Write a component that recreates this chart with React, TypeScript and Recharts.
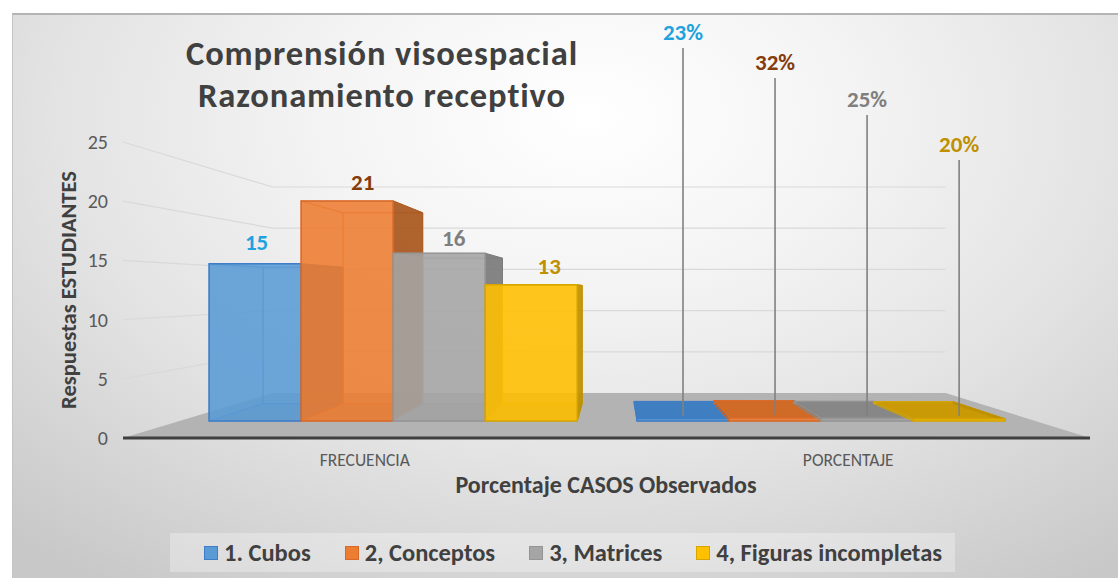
import React from "react";
import { BarChart, Bar, XAxis, YAxis, CartesianGrid, LabelList } from "recharts";

// ---------- DATA ----------
const categories = ["FRECUENCIA", "PORCENTAJE"];
const seriesNames = ["1. Cubos", "2, Conceptos", "3, Matrices", "4, Figuras incompletas"];
const frecuencia = [15, 21, 16, 13];
const porcentaje = [0.23, 0.32, 0.25, 0.2];
const yTicks = [0, 5, 10, 15, 20, 25];
const titleLines = ["Comprensión visoespacial", "Razonamiento receptivo"];
const yTitle = "Respuestas ESTUDIANTES";
const xTitle = "Porcentaje CASOS Observados";

const seriesKeys = seriesNames.map((_, i) => `s${i}`);
const data = categories.map((cat, ci) => {
  const row: Record<string, string | number> = { cat };
  seriesKeys.forEach((k, si) => {
    row[k] = ci === 0 ? frecuencia[si] : porcentaje[si];
  });
  return row;
});

// ---------- STYLE ----------
const FONT = "Carlito, Calibri, 'Liberation Sans Narrow', 'Open Sans', sans-serif";
const W = 1101;
const H = 565;
const M = { top: 129, right: 23, bottom: 100, left: 51 };
const Y_AXIS_W = 60;
const X_AXIS_H = 40;
const PLOT_LEFT = M.left + Y_AXIS_W;
const PLOT_RIGHT = W - M.right;
const PLOT_BOTTOM = H - M.bottom - X_AXIS_H;
// perspective projection (vanishing point + depth factors)
const VX = 602.8;
const VY = 277;
const T_FRONT = 0.885;
const T_BACK = 0.767;
const T_WALL = 0.696;

const FRONT = ["#5B9BD5", "#ED7D31", "#A5A5A5", "#FFC000"];
const EDGE = ["#3F7EC6", "#D8692A", "#959595", "#D6A500"];
const SIDE = ["#41719C", "#A9581F", "#7C7C7C", "#BF9000"];
const TOPC = ["#3F7FC1", "#CF6A27", "#878787", "#C99A06"];
const LABEL = ["#1FA3DF", "#843C0C", "#7F7F7F", "#BF9000"];
const FREQ_DX = [1.5, 15.5, 14.5, 18];
const FREQ_DY = [-22, -19, -15, -19];
const PCT_LABEL_Y = [19, 49, 86, 131];

const proj = (X: number, Y: number, t: number): [number, number] => [
  VX + (X - VX) * t,
  VY + (Y - VY) * t,
];
const pts = (arr: [number, number][]) => arr.map((p) => `${p[0].toFixed(2)},${p[1].toFixed(2)}`).join(" ");

function Box3D(props: any) {
  const { x, y, width, height, si } = props;
  if (x == null || y == null) return null;
  const X1 = x;
  const X2 = x + width;
  const Y1 = y;
  const Y2 = y + height;
  const f = (X: number, Y: number) => proj(X, Y, T_FRONT);
  const b = (X: number, Y: number) => proj(X, Y, T_BACK);
  const topVisible = Y1 > VY;
  return (
    <g>
      <polygon points={pts([b(X1, Y1), b(X2, Y1), b(X2, Y2), b(X1, Y2)])} fill={FRONT[si]} fillOpacity={0.2} stroke={EDGE[si]} strokeOpacity={0.6} strokeWidth={1} />
      <polygon points={pts([f(X1, Y2), f(X2, Y2), b(X2, Y2), b(X1, Y2)])} fill={SIDE[si]} fillOpacity={0.35} stroke={EDGE[si]} strokeOpacity={0.6} strokeWidth={1} />
      <polygon points={pts([f(X1, Y1), f(X1, Y2), b(X1, Y2), b(X1, Y1)])} fill={FRONT[si]} fillOpacity={0.25} stroke={EDGE[si]} strokeOpacity={0.6} strokeWidth={1} />
      <polygon points={pts([f(X1, Y1), f(X2, Y1), b(X2, Y1), b(X1, Y1)])} fill={TOPC[si]} fillOpacity={topVisible ? 1 : 0.15} stroke={EDGE[si]} strokeOpacity={topVisible ? 1 : 0.6} strokeWidth={1} />
      <polygon points={pts([f(X2, Y1), f(X2, Y2), b(X2, Y2), b(X2, Y1)])} fill={SIDE[si]} fillOpacity={0.92} stroke={SIDE[si]} strokeWidth={1} />
      <polygon points={pts([f(X1, Y1), f(X2, Y1), f(X2, Y2), f(X1, Y2)])} fill={FRONT[si]} fillOpacity={0.85} stroke={EDGE[si]} strokeWidth={1.5} />
    </g>
  );
}

const makeLabel = (si: number) => (p: any) => {
  const vb = p.viewBox && p.viewBox.width != null ? p.viewBox : p;
  const { x, y, width } = vb;
  const value = Number(p.value);
  const isPct = p.index != null ? p.index === 1 : value < 1;
  const cx = x + width / 2;
  const [fx, fy] = proj(cx, y, T_FRONT);
  if (!isPct) {
    return (
      <text x={fx + FREQ_DX[si]} y={fy + FREQ_DY[si]} textAnchor="middle" dominantBaseline="central" fill={LABEL[si]} fontSize={23} fontWeight={700} fontFamily={FONT}>
        {value}
      </text>
    );
  }
  const ly = PCT_LABEL_Y[si];
  return (
    <g>
      <line x1={fx} y1={fy - 3} x2={fx} y2={ly + 16} stroke="#808080" strokeWidth={1.6} />
      <text x={fx} y={ly} textAnchor="middle" dominantBaseline="central" fill={LABEL[si]} fontSize={23} fontWeight={700} fontFamily={FONT}>
        {`${Math.round(value * 100)}%`}
      </text>
    </g>
  );
};

const gridLine = (p: any) => {
  const y1 = p.y1;
  const [bxL, by] = proj(PLOT_LEFT, y1, T_WALL);
  const [bxR] = proj(PLOT_RIGHT, y1, T_WALL);
  if (Math.abs(y1 - PLOT_BOTTOM) < 1) {
    return (
      <polygon key={p.key} points={pts([[PLOT_LEFT, y1], [PLOT_RIGHT, y1], [bxR, by], [bxL, by]])} fill="#b3b3b3" stroke="none" />
    );
  }
  return (
    <polyline key={p.key} points={pts([[PLOT_LEFT, y1], [bxL, by], [bxR, by]])} fill="none" stroke="#d9d9d9" strokeWidth={1.2} />
  );
};

const YTick = (p: any) => (
  <text x={PLOT_LEFT - 15} y={p.y} textAnchor="end" dominantBaseline="central" fill="#595959" fontSize={20} fontFamily={FONT}>
    {p.payload.value}
  </text>
);

const XTick = (p: any) => (
  <text x={p.x} y={PLOT_BOTTOM + 22} textAnchor="middle" dominantBaseline="central" fill="#595959" fontSize={17.5} fontFamily={FONT}>
    {p.payload.value}
  </text>
);

export default function App() {
  return (
    <div style={{ position: "absolute", left: 0, top: 0, width: 1118, height: 578, background: "#fff", overflow: "hidden" }}>
      <div
        style={{
          position: "absolute",
          left: 12,
          top: 13,
          width: 1106,
          height: 565,
          borderTop: "2px solid #b4b4b4",
          borderLeft: "1px solid #c4c4c4",
          boxSizing: "border-box",
          background:
            "radial-gradient(ellipse 78% 100% at 52% 18%, #ffffff 0%, #f4f4f4 30%, #e3e3e3 62%, #c8c8c8 100%)",
        }}
      />
      <div style={{ position: "absolute", left: 12, top: 13, width: W, height: H }}>
        <BarChart width={W} height={H} data={data} margin={M} barCategoryGap="6.9%" barGap={0}>
          <CartesianGrid vertical={false} horizontal={gridLine} />
          <XAxis dataKey="cat" height={X_AXIS_H} axisLine={{ stroke: "#3f3f3f", strokeWidth: 3 }} tickLine={false} tick={XTick} interval={0} />
          <YAxis width={Y_AXIS_W} domain={[0, 25]} ticks={yTicks} axisLine={false} tickLine={false} tick={YTick} interval={0} />
          {seriesKeys.map((k, si) => (
            <Bar key={k} dataKey={k} name={seriesNames[si]} fill={FRONT[si]} isAnimationActive={false} shape={(p: any) => <Box3D {...p} si={si} />}>
              <LabelList dataKey={k} content={makeLabel(si)} />
            </Bar>
          ))}
        </BarChart>
        <svg width={W} height={H} style={{ position: "absolute", left: 0, top: 0, pointerEvents: "none" }}>
          {titleLines.map((t, i) => (
            <text key={t} x={370} y={52 + i * 42} textAnchor="middle" fill="#404040" fontSize={34.5} fontWeight={700} letterSpacing={0.9} fontFamily={FONT}>
              {t}
            </text>
          ))}
          <text x={56} y={277} transform="rotate(-90 56 277)" textAnchor="middle" dominantBaseline="central" fill="#404040" fontSize={22.5} fontWeight={700} fontFamily={FONT}>
            {yTitle}
          </text>
          <text x={594} y={471} textAnchor="middle" dominantBaseline="central" fill="#404040" fontSize={24} fontWeight={700} fontFamily={FONT}>
            {xTitle}
          </text>
        </svg>
        <div
          style={{
            position: "absolute",
            left: 158,
            top: 520,
            width: 785,
            height: 39,
            boxSizing: "border-box",
            background: "rgba(255,255,255,0.3)",
            display: "flex",
            alignItems: "center",
            paddingLeft: 34,
            gap: 34,
            fontFamily: FONT,
            fontSize: 24.5,
            fontWeight: 700,
            color: "#404040",
            whiteSpace: "nowrap",
          }}
        >
          {seriesNames.map((n, si) => (
            <div key={n} style={{ display: "flex", alignItems: "center", gap: 6 }}>
              <span style={{ width: 12, height: 12, background: FRONT[si], border: `1.5px solid ${EDGE[si]}`, display: "inline-block" }} />
              <span>{n}</span>
            </div>
          ))}
        </div>
      </div>
    </div>
  );
}
